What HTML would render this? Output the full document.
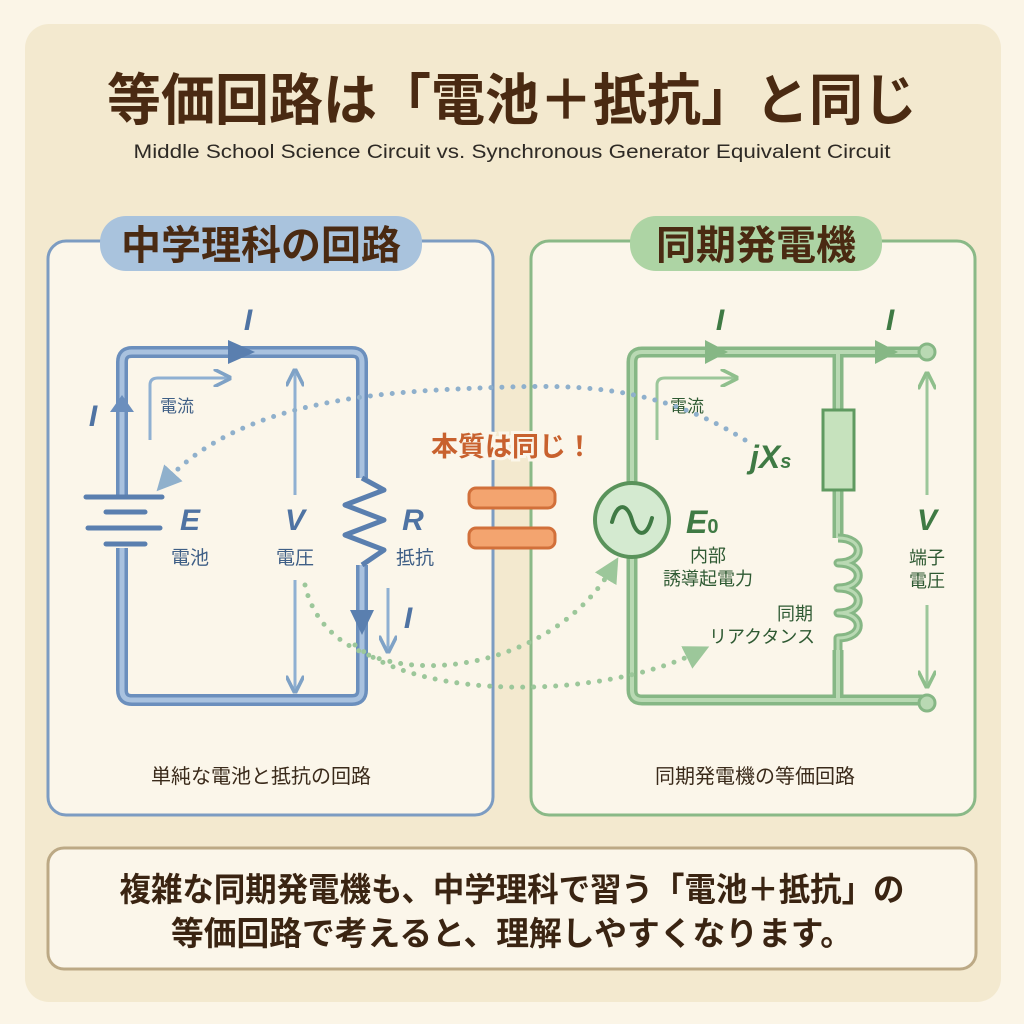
<!DOCTYPE html>
<html><head><meta charset="utf-8"><style>
html,body{margin:0;padding:0;background:#fbf5e7}
svg{display:block}
text{font-family:"Liberation Sans","Noto Sans CJK JP",sans-serif}
</style></head><body>
<svg width="1024" height="1024" viewBox="0 0 1024 1024" xmlns="http://www.w3.org/2000/svg">
<defs>
<marker id="ab" viewBox="0 0 10 10" refX="5" refY="5" markerWidth="5" markerHeight="5" orient="auto"><path d="M0,0 L10,5 L0,10 z" fill="#8fb0cc"/></marker>
<marker id="ag" viewBox="0 0 10 10" refX="5" refY="5" markerWidth="5" markerHeight="5" orient="auto"><path d="M0,0 L10,5 L0,10 z" fill="#9cc79a"/></marker>
<marker id="lb" viewBox="0 0 10 10" refX="8" refY="5" markerWidth="6" markerHeight="6" orient="auto"><path d="M0,0 L10,5 L0,10" fill="none" stroke="#7fa2c6" stroke-width="2"/></marker>
<marker id="lg" viewBox="0 0 10 10" refX="8" refY="5" markerWidth="6" markerHeight="6" orient="auto"><path d="M0,0 L10,5 L0,10" fill="none" stroke="#8fbf8c" stroke-width="2"/></marker>
</defs>
<rect width="1024" height="1024" fill="#fbf5e7"/>
<rect x="25" y="24" width="976" height="978" rx="24" fill="#f3e9cf"/>
<text x="512" y="120" text-anchor="middle" font-size="56" font-weight="bold" fill="#4a2a12" textLength="810" lengthAdjust="spacingAndGlyphs">等価回路は「電池＋抵抗」と同じ</text>
<text x="512" y="158" text-anchor="middle" font-size="19" fill="#2e2a25" textLength="757" lengthAdjust="spacingAndGlyphs">Middle School Science Circuit vs. Synchronous Generator Equivalent Circuit</text>

<rect x="48" y="241" width="445" height="574" rx="18" fill="#fbf6ea" stroke="#7c9cc2" stroke-width="3"/>
<rect x="100" y="216" width="322" height="55" rx="26" fill="#a9c3dd"/>
<text x="261" y="259" text-anchor="middle" font-size="40" font-weight="bold" fill="#4a2a12">中学理科の回路</text>
<rect x="531" y="241" width="444" height="574" rx="18" fill="#fbf6ea" stroke="#8ab987" stroke-width="3"/>
<rect x="630" y="216" width="252" height="55" rx="26" fill="#add4a4"/>
<text x="756" y="259" text-anchor="middle" font-size="40" font-weight="bold" fill="#4a2a12">同期発電機</text>

<g fill="none" stroke-linejoin="round">
<path d="M122,495 L122,362 Q122,352 132,352 L352,352 Q362,352 362,362 L362,478 M362,565 L362,690 Q362,700 352,700 L132,700 Q122,700 122,690 L122,548" stroke="#6b8fbd" stroke-width="12"/>
<path d="M122,495 L122,362 Q122,352 132,352 L352,352 Q362,352 362,362 L362,478 M362,565 L362,690 Q362,700 352,700 L132,700 Q122,700 122,690 L122,548" stroke="#a9c2df" stroke-width="5"/>
<path d="M362,478 L384,490 L345,505 L384,520 L345,535 L384,550 L362,565" stroke="#5a7faf" stroke-width="5"/>
</g>
<g stroke="#5a7faf" stroke-width="5" stroke-linecap="round">
<line x1="86" y1="497" x2="162" y2="497"/><line x1="106" y1="512" x2="145" y2="512"/>
<line x1="88" y1="528" x2="160" y2="528"/><line x1="106" y1="544" x2="145" y2="544"/>
</g>
<path d="M228,340 L255,352 L228,364 z" fill="#5a7faf"/>
<path d="M110,412 L122,395 L134,412 z" fill="#6b8fbd"/>
<path d="M350,610 L374,610 L362,635 z" fill="#5a7faf"/>
<text x="248" y="330" text-anchor="middle" font-size="30" font-style="italic" font-weight="bold" fill="#4f73a3">I</text>
<text x="93" y="426" text-anchor="middle" font-size="30" font-style="italic" font-weight="bold" fill="#4f73a3">I</text>
<text x="408" y="628" text-anchor="middle" font-size="30" font-style="italic" font-weight="bold" fill="#4f73a3">I</text>
<path d="M150,440 L150,385 Q150,378 158,378 L228,378" fill="none" stroke="#8fb0d2" stroke-width="3" marker-end="url(#lb)"/>
<text x="160" y="412" font-size="17" fill="#3f5f86">電流</text>
<line x1="295" y1="495" x2="295" y2="372" stroke="#8fb0d2" stroke-width="3" marker-end="url(#lb)"/>
<line x1="295" y1="580" x2="295" y2="690" stroke="#8fb0d2" stroke-width="3" marker-end="url(#lb)"/>
<line x1="388" y1="588" x2="388" y2="650" stroke="#8fb0d2" stroke-width="3" marker-end="url(#lb)"/>
<text x="190" y="530" text-anchor="middle" font-size="30" font-style="italic" font-weight="bold" fill="#4f73a3">E</text>
<text x="190" y="564" text-anchor="middle" font-size="19" fill="#3f5f86">電池</text>
<text x="295" y="530" text-anchor="middle" font-size="30" font-style="italic" font-weight="bold" fill="#4f73a3">V</text>
<text x="295" y="564" text-anchor="middle" font-size="19" fill="#3f5f86">電圧</text>
<text x="413" y="530" text-anchor="middle" font-size="30" font-style="italic" font-weight="bold" fill="#4f73a3">R</text>
<text x="415" y="564" text-anchor="middle" font-size="19" fill="#3f5f86">抵抗</text>
<text x="261" y="783" text-anchor="middle" font-size="20" fill="#3a2a1a">単純な電池と抵抗の回路</text>

<g fill="none" stroke-linejoin="round">
<path d="M632,482 L632,362 Q632,352 642,352 L925,352 M838,352 L838,410 M838,490 L838,538 M838,650 L838,700 M925,700 L642,700 Q632,700 632,690 L632,558" stroke="#86b785" stroke-width="11"/>
<path d="M632,482 L632,362 Q632,352 642,352 L925,352 M838,352 L838,410 M838,490 L838,538 M838,650 L838,700 M925,700 L642,700 Q632,700 632,690 L632,558" stroke="#b9d9b3" stroke-width="4"/>
<path d="M838,538 C865,538 865,563 838,563 C865,563 865,588 838,588 C865,588 865,613 838,613 C865,613 865,638 838,638 L838,650" stroke="#86b785" stroke-width="9"/>
<path d="M838,538 C865,538 865,563 838,563 C865,563 865,588 838,588 C865,588 865,613 838,613 C865,613 865,638 838,638 L838,650" stroke="#b9d9b3" stroke-width="3"/>
</g>
<rect x="823" y="410" width="31" height="80" fill="#c6e2bd" stroke="#5f9a60" stroke-width="3"/>
<circle cx="632" cy="520" r="37" fill="#d4ead0" stroke="#5a935b" stroke-width="4"/>
<path d="M612,522 C618,500 628,505 632,520 C636,535 646,540 652,518" fill="none" stroke="#3f7a44" stroke-width="4" stroke-linecap="round"/>
<circle cx="927" cy="352" r="8" fill="#b9d9b3" stroke="#86b785" stroke-width="3"/>
<circle cx="927" cy="703" r="8" fill="#b9d9b3" stroke="#86b785" stroke-width="3"/>
<path d="M705,340 L728,352 L705,364 z" fill="#86b785"/>
<path d="M875,340 L898,352 L875,364 z" fill="#86b785"/>
<text x="720" y="330" text-anchor="middle" font-size="30" font-style="italic" font-weight="bold" fill="#3f7a44">I</text>
<text x="890" y="330" text-anchor="middle" font-size="30" font-style="italic" font-weight="bold" fill="#3f7a44">I</text>
<path d="M657,440 L657,385 Q657,378 665,378 L735,378" fill="none" stroke="#9cc79a" stroke-width="3" marker-end="url(#lg)"/>
<text x="670" y="412" font-size="17" fill="#2f5a33">電流</text>
<text x="750" y="468" font-size="32" font-style="italic" font-weight="bold" fill="#3f7a44">jX<tspan font-size="20">s</tspan></text>
<text x="686" y="533" font-size="32" font-style="italic" font-weight="bold" fill="#3f7a44">E<tspan font-size="20" font-style="normal">0</tspan></text>
<text x="708" y="562" text-anchor="middle" font-size="18" fill="#2f5a33">内部</text>
<text x="708" y="585" text-anchor="middle" font-size="18" fill="#2f5a33">誘導起電力</text>
<text x="795" y="620" text-anchor="middle" font-size="18" fill="#2f5a33">同期</text>
<text x="762" y="643" text-anchor="middle" font-size="18" fill="#2f5a33">リアクタンス</text>
<line x1="927" y1="495" x2="927" y2="375" stroke="#9cc79a" stroke-width="3" marker-end="url(#lg)"/>
<line x1="927" y1="605" x2="927" y2="685" stroke="#9cc79a" stroke-width="3" marker-end="url(#lg)"/>
<text x="927" y="530" text-anchor="middle" font-size="30" font-style="italic" font-weight="bold" fill="#3f7a44">V</text>
<text x="927" y="564" text-anchor="middle" font-size="18" fill="#2f5a33">端子</text>
<text x="927" y="587" text-anchor="middle" font-size="18" fill="#2f5a33">電圧</text>
<text x="755" y="783" text-anchor="middle" font-size="20" fill="#3a2a1a">同期発電機の等価回路</text>

<path d="M745,440 C650,380 560,385 480,388 C380,392 240,400 165,482" fill="none" stroke="#8fb0cc" stroke-width="5" stroke-linecap="round" stroke-dasharray="0 11" marker-end="url(#ab)"/>
<path d="M305,585 C330,700 540,690 612,568" fill="none" stroke="#9cc79a" stroke-width="5" stroke-linecap="round" stroke-dasharray="0 11" marker-end="url(#ag)"/>
<path d="M355,645 C420,700 600,700 698,652" fill="none" stroke="#9cc79a" stroke-width="5" stroke-linecap="round" stroke-dasharray="0 11" marker-end="url(#ag)"/>

<text x="512" y="456" text-anchor="middle" font-size="27" font-weight="bold" fill="#c8612e" stroke="#fbf6ea" stroke-width="6" paint-order="stroke">本質は同じ！</text>
<rect x="469" y="488" width="86" height="20" rx="7" fill="#f3a46f" stroke="#d2703a" stroke-width="3"/>
<rect x="469" y="528" width="86" height="20" rx="7" fill="#f3a46f" stroke="#d2703a" stroke-width="3"/>

<rect x="48" y="848" width="928" height="121" rx="16" fill="#fbf6ea" stroke="#bca985" stroke-width="3"/>
<text x="512" y="901" text-anchor="middle" font-size="33" font-weight="bold" fill="#3a2412" textLength="785" lengthAdjust="spacingAndGlyphs">複雑な同期発電機も、中学理科で習う「電池＋抵抗」の</text>
<text x="512" y="945" text-anchor="middle" font-size="33" font-weight="bold" fill="#3a2412" textLength="682" lengthAdjust="spacingAndGlyphs">等価回路で考えると、理解しやすくなります。</text>
</svg>
</body></html>
